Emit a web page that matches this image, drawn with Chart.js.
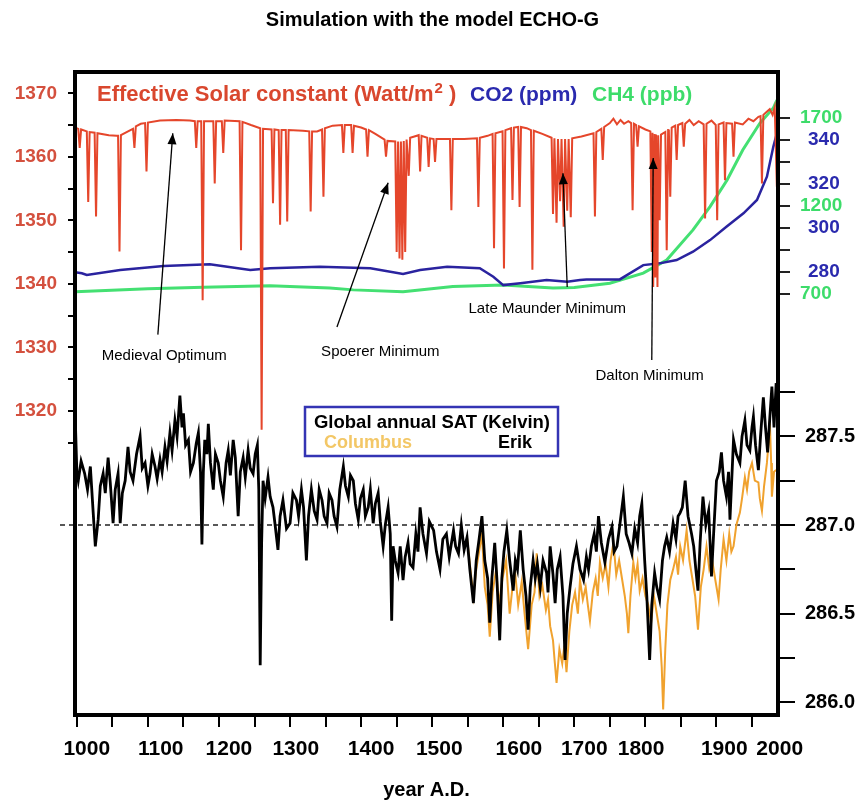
<!DOCTYPE html>
<html><head><meta charset="utf-8">
<script src="https://cdn.jsdelivr.net/npm/chart.js@4.4.0/dist/chart.umd.min.js"></script>
<style>html,body{margin:0;padding:0;background:#fff}canvas{display:block}</style>
</head><body>
<canvas id="c" width="865" height="802"></canvas>
<script>
const chartTitle = 'Simulation with the model ECHO-G';
const xAxisTitle = 'year A.D.';

// Effective solar constant (W/m2): [year, value]
const solar = [
[998,1364.6],[1002,1364.4],[1004,1361.4],[1006,1364.3],
[1014,1364.0],[1016,1352.9],[1018,1363.9],
[1025,1363.8],[1027,1350.6],[1029,1363.7],
[1045,1363.4],[1056,1363.3],[1058,1363.3],[1060,1345.1],[1062,1363.4],
[1072,1364.0],[1079,1364.4],[1081,1361.4],[1083,1364.8],
[1090,1365.2],[1096,1365.3],[1098,1357.7],[1100,1365.4],
[1117,1365.7],[1140,1365.8],[1159,1365.7],
[1166,1365.6],[1168,1361.4],[1170,1365.6],
[1175,1365.6],[1177,1337.4],[1179,1365.6],
[1192,1365.6],[1194,1355.8],[1196,1365.6],
[1204,1365.6],[1206,1360.6],[1208,1365.7],
[1229,1365.6],[1231,1345.3],[1233,1365.5],
[1245,1365.0],[1258,1364.5],[1260,1317.0],[1262,1364.4],
[1274,1364.3],[1276,1352.7],[1278,1364.3],
[1284,1364.2],[1286,1349.3],[1288,1364.2],
[1294,1364.2],[1296,1349.8],[1298,1364.2],
[1318,1364.1],
[1327,1364.0],[1329,1351.4],[1331,1364.0],
[1338,1364.0],[1345,1364.3],[1347,1353.7],[1349,1364.5],
[1360,1364.9],[1373,1365.0],[1375,1360.6],[1377,1365.0],
[1386,1365.0],[1388,1360.6],[1390,1364.9],
[1400,1364.6],[1407,1364.3],[1409,1360.0],[1411,1364.2],
[1420,1363.6],[1433,1362.7],[1435,1360.0],[1437,1362.5],
[1448,1362.4],[1450,1345.0],[1452,1362.4],[1454,1344.0],[1456,1362.4],[1458,1343.8],[1460,1362.5],[1462,1345.0],[1464,1362.7],[1467,1357.0],[1469,1363.0],
[1481,1363.4],[1483,1357.7],[1485,1363.3],
[1493,1363.0],[1495,1358.4],[1497,1362.9],
[1502,1362.8],[1504,1359.2],[1506,1362.8],
[1525,1362.8],[1527,1351.6],[1529,1362.8],
[1545,1362.8],[1563,1362.9],[1565,1352.1],[1567,1363.0],
[1578,1363.3],[1585,1363.6],[1587,1345.6],[1589,1363.7],
[1599,1364.0],[1601,1342.4],[1603,1364.2],
[1611,1364.5],[1613,1353.2],[1615,1364.6],
[1621,1364.7],[1623,1352.1],[1625,1364.7],
[1633,1364.5],[1639,1364.2],[1641,1342.2],[1643,1364.1],
[1655,1363.6],[1668,1363.0],[1670,1351.0],[1672,1362.9],[1675,1349.6],[1677,1362.8],[1680,1353.0],[1682,1362.8],[1685,1349.0],[1687,1362.8],[1690,1351.5],[1692,1362.8],[1695,1350.5],[1697,1362.9],
[1710,1363.2],[1727,1363.7],[1729,1350.6],[1731,1363.9],
[1738,1364.4],[1740,1359.5],[1742,1364.7],
[1750,1365.3],[1755,1366.0],[1760,1365.1],[1765,1365.8],[1770,1365.2],[1776,1365.6],
[1780,1365.3],[1782,1351.6],[1784,1365.2],
[1787,1365.0],[1789,1361.6],[1791,1364.8],
[1800,1364.3],[1807,1364.0],[1809,1345.0],[1810,1363.8],[1811,1339.5],[1813,1363.6],[1814,1341.0],[1815,1363.5],[1817,1339.5],[1818,1363.4],[1820,1350.0],[1822,1363.5],
[1828,1363.9],[1830,1345.3],[1832,1364.2],
[1833,1364.3],[1835,1353.7],[1837,1364.6],
[1842,1364.9],[1844,1359.5],[1846,1365.0],
[1852,1365.3],[1854,1361.6],[1856,1365.2],
[1862,1365.8],[1868,1365.0],[1875,1365.6],
[1882,1365.1],[1884,1350.3],[1886,1365.2],
[1893,1365.7],[1899,1365.0],[1901,1350.0],[1903,1365.1],
[1910,1365.4],[1912,1356.3],[1914,1365.3],
[1922,1365.2],[1924,1360.0],[1926,1365.4],
[1937,1365.1],[1945,1366.0],[1952,1365.6],[1959,1366.3],
[1962,1366.4],[1964,1355.8],[1966,1366.6],
[1970,1367.0],[1975,1367.5],[1979,1366.6],[1982,1367.8],[1985,1355.3]
];

// CO2 (ppm)
const co2 = [
[1000,279.6],[1007,279.3],[1014,278.5],[1061,280.8],[1122,282.6],[1187,283.4],[1244,280.8],[1272,281.6],
[1342,282.3],[1413,281.6],[1459,279.0],[1483,280.8],[1521,282.3],[1567,281.6],[1586,277.7],[1600,273.9],
[1624,274.7],[1661,276.2],[1690,275.4],[1708,276.2],[1717,276.5],[1764,276.5],[1797,283.0],[1820,283.8],
[1844,285.3],[1867,289.1],[1891,294.4],[1914,300.5],[1938,306.6],[1957,312.7],[1971,323.3],[1980,336.9],[1985,343.0]
];

// CH4 (ppb)
const ch4 = [
[998,711],[1100,728],[1178,736],[1272,744],[1356,731],[1389,721],[1459,711],[1529,740],[1600,749],
[1670,731],[1700,735],[1750,759],[1797,816],[1830,891],[1867,1062],[1891,1194],[1915,1346],
[1937,1516],[1961,1668],[1980,1755],[1985,1800]
];

// Global annual SAT (K), run "Erik"
const erik = [
[998,287.57],[1000,287.30],[1002,287.25],[1006,287.36],[1011,287.29],[1015,287.20],[1019,287.33],[1023,287.07],
[1026,286.88],[1030,287.03],[1033,287.22],[1037,287.29],[1040,287.18],[1044,287.38],[1047,287.24],[1051,287.01],
[1054,287.20],[1058,287.29],[1061,287.01],[1064,287.18],[1068,287.25],[1072,287.44],[1075,287.30],[1079,287.25],
[1084,287.40],[1089,287.50],[1092,287.32],[1096,287.35],[1100,287.22],[1103,287.29],[1106,287.40],[1110,287.33],
[1113,287.26],[1117,287.37],[1120,287.30],[1124,287.44],[1127,287.36],[1131,287.52],[1134,287.42],[1138,287.59],
[1141,287.50],[1145,287.73],[1148,287.55],[1150,287.63],[1153,287.45],[1157,287.48],[1160,287.30],[1164,287.35],
[1168,287.46],[1171,287.52],[1174,287.30],[1176,286.89],[1178,287.30],[1180,287.48],[1183,287.40],[1185,287.57],
[1188,287.35],[1192,287.20],[1195,287.40],[1199,287.35],[1202,287.25],[1206,287.16],[1210,287.35],[1213,287.42],
[1216,287.28],[1220,287.48],[1223,287.38],[1227,287.05],[1230,287.30],[1234,287.38],[1237,287.27],[1241,287.42],
[1244,287.32],[1248,287.29],[1251,287.40],[1254,287.45],[1256,287.20],[1258,286.21],[1260,286.90],[1262,287.25],
[1265,287.15],[1269,287.27],[1272,287.16],[1276,287.10],[1279,287.00],[1283,286.86],[1286,287.05],[1290,287.14],
[1295,286.98],[1300,287.01],[1304,287.18],[1309,287.14],[1312,287.05],[1316,287.20],[1319,287.10],[1323,286.80],
[1326,287.05],[1330,287.20],[1334,287.08],[1338,287.03],[1341,287.20],[1345,287.14],[1348,287.05],[1352,287.01],
[1355,287.18],[1359,287.14],[1362,287.05],[1366,286.99],[1370,287.20],[1375,287.33],[1378,287.22],[1382,287.16],
[1385,287.28],[1389,287.25],[1392,287.12],[1396,287.03],[1399,287.15],[1403,287.20],[1406,287.05],[1410,287.10],
[1413,287.20],[1417,287.01],[1420,287.12],[1424,287.18],[1427,287.02],[1431,286.88],[1434,287.00],[1438,287.10],
[1441,286.95],[1443,286.46],[1445,286.88],[1448,286.80],[1452,286.73],[1455,286.88],[1459,286.69],[1462,286.82],
[1466,286.90],[1469,286.78],[1473,286.76],[1477,286.95],[1480,286.85],[1483,287.10],[1487,286.95],[1492,286.84],
[1496,287.02],[1502,286.97],[1506,286.85],[1511,286.75],[1515,286.92],[1520,286.95],[1524,286.82],[1530,286.97],
[1533,286.88],[1537,286.84],[1541,287.00],[1545,286.86],[1549,286.93],[1553,286.75],[1558,286.56],[1562,286.80],
[1566,286.92],[1570,287.05],[1574,286.80],[1578,286.70],[1581,286.45],[1584,286.70],[1588,286.90],[1591,286.70],
[1595,286.35],[1598,286.70],[1601,286.85],[1605,286.97],[1609,286.80],[1614,286.63],[1617,286.80],[1620,286.75],
[1624,286.97],[1628,286.75],[1632,286.60],[1635,286.41],[1638,286.65],[1642,286.80],[1645,286.70],[1648,286.78],
[1652,286.65],[1656,286.80],[1661,286.73],[1663,286.62],[1666,286.88],[1670,286.72],[1673,286.56],[1676,286.75],
[1680,286.82],[1684,286.60],[1687,286.24],[1690,286.50],[1694,286.65],[1698,286.78],[1703,286.88],[1708,286.75],
[1713,286.69],[1717,286.82],[1720,286.75],[1724,286.88],[1728,286.95],[1731,286.85],[1734,287.05],[1738,286.90],
[1743,286.79],[1748,286.92],[1753,286.99],[1756,286.85],[1760,286.88],[1764,287.00],[1769,287.16],[1773,286.95],
[1777,286.90],[1781,286.84],[1785,286.98],[1789,286.90],[1792,287.05],[1795,287.12],[1799,286.80],[1802,286.60],
[1806,286.24],[1809,286.55],[1813,286.73],[1816,286.65],[1820,286.58],[1824,286.80],[1827,286.88],[1830,286.93],
[1834,286.85],[1839,287.01],[1843,286.92],[1846,287.05],[1849,287.07],[1852,287.10],[1856,287.25],[1860,287.05],
[1865,286.95],[1868,286.88],[1871,286.75],[1874,286.63],[1877,286.90],[1881,287.16],[1885,287.00],[1889,287.08],
[1891,286.90],[1893,286.71],[1896,286.95],[1900,287.25],[1904,287.30],[1907,287.41],[1910,287.25],[1914,287.16],
[1917,287.30],[1919,287.03],[1922,287.30],[1924,287.48],[1928,287.40],[1933,287.35],[1936,287.50],[1940,287.59],
[1943,287.45],[1947,287.42],[1950,287.55],[1952,287.61],[1955,287.45],[1959,287.31],[1962,287.50],[1966,287.72],
[1969,287.55],[1972,287.41],[1975,287.60],[1978,287.78],[1981,287.55],[1984,287.80]
];

// Global annual SAT (K), run "Columbus" (coincides with Erik before ~1550)
const columbus = [
[1549,286.93],[1553,286.78],[1558,286.60],[1562,286.75],[1566,286.85],[1570,286.95],[1574,286.65],[1578,286.55],
[1581,286.37],[1585,286.62],[1590,286.75],[1594,286.55],[1599,286.70],[1604,286.80],[1609,286.50],[1613,286.65],
[1617,286.72],[1621,286.55],[1626,286.68],[1630,286.50],[1635,286.30],[1640,286.55],[1644,286.62],[1647,286.84],
[1651,286.60],[1655,286.66],[1660,286.52],[1663,286.58],[1666,286.43],[1670,286.35],[1672,286.25],[1675,286.11],
[1679,286.30],[1683,286.22],[1686,286.32],[1689,286.17],[1693,286.40],[1697,286.55],[1701,286.62],[1705,286.50],
[1708,286.69],[1712,286.58],[1716,286.65],[1719,286.55],[1722,286.46],[1726,286.62],[1730,286.70],[1733,286.60],
[1736,286.79],[1740,286.70],[1744,286.78],[1748,286.65],[1751,286.80],[1755,286.90],[1759,286.72],[1763,286.80],
[1767,286.70],[1771,286.60],[1774,286.50],[1776,286.39],[1779,286.60],[1783,286.79],[1786,286.70],[1789,286.78],
[1792,286.63],[1796,286.70],[1800,286.60],[1804,286.55],[1808,286.45],[1812,286.60],[1816,286.50],[1820,286.40],
[1823,286.20],[1825,285.96],[1828,286.30],[1831,286.55],[1835,286.69],[1839,286.75],[1843,286.82],[1846,286.72],
[1849,286.88],[1853,286.80],[1858,286.97],[1862,286.80],[1866,286.70],[1870,286.60],[1874,286.41],[1878,286.65],
[1882,286.75],[1886,286.88],[1890,286.75],[1894,286.80],[1898,286.70],[1903,286.58],[1906,286.75],[1910,286.92],
[1914,286.80],[1918,286.95],[1921,286.85],[1924,286.88],[1928,287.00],[1933,287.07],[1936,287.15],[1940,287.27],
[1943,287.20],[1946,287.30],[1950,287.35],[1954,287.25],[1959,287.24],[1961,287.15],[1964,287.08],[1967,287.22],
[1971,287.35],[1973,287.45],[1975,287.59],[1977,287.35],[1978,287.16],[1981,287.30],[1984,287.31]
];

const referenceTemp = 287.0;
const yearTicks = [1000,1050,1100,1150,1200,1250,1300,1350,1400,1450,1500,1550,1600,1650,1700,1750,1800,1850,1900,1950];
const xLabelText = ['1000','1100','1200','1300','1400','1500','1600','1700','1800','1900','2000'];
const xLabelYear = [1014,1118,1214,1308,1414,1510,1622,1714,1794,1911,1989];
const solarTicks = [1315,1320,1325,1330,1335,1340,1345,1350,1355,1360,1365,1370];
const tempTicks = [286.0,286.25,286.5,286.75,287.0,287.25,287.5,287.75];
const co2Ticks = [280,290,300,310,320,330,340];
const ch4Ticks = [700,1200,1700];

const annotationText = ['Medieval Optimum','Spoerer Minimum','Late Maunder Minimum','Dalton Minimum'];
const annotationAt = [[1123,1328.6],[1427,1329.3],[1662,1336.0],[1806,1325.5]];
const arrowFrom = [[1114,1332.0],[1366,1333.2],[1690,1339.5],[1809,1328.0]];
const arrowTo = [[1135,1363.7],[1438,1355.9],[1684,1357.4],[1811,1359.8]];

const FONT = '"Liberation Sans", Arial, Helvetica, sans-serif';
const pts = a => a.map(([x, y]) => ({x, y}));
const setTicks = list => s => { s.ticks = list.map(v => ({value: v})); };

const overlay = {
  id: 'overlay',
  afterLayout(chart) {
    // CO2 and CH4 axes share the right edge with the temperature axis
    for (const id of ['yCO2', 'yCH4']) {
      const s = chart.scales[id];
      s.left = chart.chartArea.right;
      s.right = chart.width;
      s.width = s.right - s.left;
    }
  },
  beforeDatasetsDraw(chart) {
    const {ctx, chartArea} = chart;
    const yT = chart.scales.yTemp.getPixelForValue(referenceTemp);
    ctx.save();
    ctx.strokeStyle = '#222'; ctx.lineWidth = 1.5; ctx.setLineDash([5, 4]);
    ctx.beginPath(); ctx.moveTo(60, yT); ctx.lineTo(chartArea.right, yT); ctx.stroke();
    ctx.restore();
  },
  afterDatasetsDraw(chart) {
    const {ctx, chartArea} = chart;
    const xs = chart.scales.x, ys = chart.scales.ySolar;
    ctx.save();
    ctx.strokeStyle = '#000'; ctx.lineWidth = 4;
    ctx.strokeRect(chartArea.left, chartArea.top, chartArea.right - chartArea.left, chartArea.bottom - chartArea.top);
    ctx.textBaseline = 'middle'; ctx.textAlign = 'left';
    let x = chartArea.left + 22, y = 95;
    ctx.font = 'bold 22px ' + FONT; ctx.fillStyle = '#d9472e';
    const p1 = 'Effective Solar constant (Watt/m';
    ctx.fillText(p1, x, y); x += ctx.measureText(p1).width + 1;
    ctx.font = 'bold 15px ' + FONT; ctx.fillText('2', x, y - 6); x += ctx.measureText('2').width;
    ctx.font = 'bold 22px ' + FONT; ctx.fillText(' )', x, y);
    ctx.font = 'bold 21px ' + FONT;
    ctx.fillStyle = '#2a2aae'; ctx.fillText('CO2 (ppm)', 470, y);
    ctx.fillStyle = '#3ddc6a'; ctx.fillText('CH4 (ppb)', 592, y);
    ctx.strokeStyle = '#000'; ctx.fillStyle = '#000'; ctx.lineWidth = 1.3;
    for (let i = 0; i < annotationText.length; i++) {
      const x0 = xs.getPixelForValue(arrowFrom[i][0]), y0 = ys.getPixelForValue(arrowFrom[i][1]);
      const x1 = xs.getPixelForValue(arrowTo[i][0]), y1 = ys.getPixelForValue(arrowTo[i][1]);
      ctx.beginPath(); ctx.moveTo(x0, y0); ctx.lineTo(x1, y1); ctx.stroke();
      const ang = Math.atan2(y1 - y0, x1 - x0), L = 11, W = 4.5;
      ctx.beginPath(); ctx.moveTo(x1, y1);
      ctx.lineTo(x1 - L * Math.cos(ang) + W * Math.sin(ang), y1 - L * Math.sin(ang) - W * Math.cos(ang));
      ctx.lineTo(x1 - L * Math.cos(ang) - W * Math.sin(ang), y1 - L * Math.sin(ang) + W * Math.cos(ang));
      ctx.closePath(); ctx.fill();
      ctx.font = '15px ' + FONT; ctx.textAlign = 'center';
      ctx.fillText(annotationText[i], xs.getPixelForValue(annotationAt[i][0]), ys.getPixelForValue(annotationAt[i][1]));
    }
    ctx.strokeStyle = '#3434b4'; ctx.lineWidth = 2.5;
    ctx.fillStyle = '#fff';
    ctx.fillRect(305, 407, 253, 49);
    ctx.strokeRect(305, 407, 253, 49);
    ctx.textAlign = 'center';
    ctx.font = 'bold 18.5px ' + FONT; ctx.fillStyle = '#000';
    ctx.fillText('Global annual SAT (Kelvin)', 432, 423);
    ctx.font = 'bold 18px ' + FONT;
    ctx.fillStyle = '#f3c766'; ctx.fillText('Columbus', 368, 443);
    ctx.fillStyle = '#000'; ctx.fillText('Erik', 515, 443);
    ctx.font = 'bold 21px ' + FONT; ctx.fillStyle = '#000';
    for (let i = 0; i < xLabelText.length; i++) {
      ctx.fillText(xLabelText[i], xs.getPixelForValue(xLabelYear[i]), 749);
    }
    ctx.restore();
  }
};

new Chart(document.getElementById('c'), {
  type: 'line',
  data: {
    datasets: [
      {label: 'Solar', data: pts(solar), yAxisID: 'ySolar', borderColor: '#e5462b', borderWidth: 2, order: 1},
      {label: 'CO2', data: pts(co2), yAxisID: 'yCO2', borderColor: '#2a239f', borderWidth: 2.5, order: 3},
      {label: 'CH4', data: pts(ch4), yAxisID: 'yCH4', borderColor: '#44e072', borderWidth: 3, order: 4},
      {label: 'Erik', data: pts(erik), yAxisID: 'yTemp', borderColor: '#000', borderWidth: 2.8, order: 2},
      {label: 'Columbus', data: pts(columbus), yAxisID: 'yTemp', borderColor: '#f0a22e', borderWidth: 2, order: 5}
    ]
  },
  options: {
    responsive: false, animation: false, devicePixelRatio: 1,
    layout: {padding: 0},
    elements: {point: {radius: 0}, line: {tension: 0}},
    plugins: {
      legend: {display: false}, tooltip: {enabled: false},
      title: {display: true, text: chartTitle, color: '#000', font: {family: FONT, size: 20, weight: 'bold'}, padding: {top: 8, bottom: 40}}
    },
    scales: {
      x: {
        type: 'linear', position: 'bottom', min: 997.4, max: 1986.6,
        afterBuildTicks: setTicks(yearTicks),
        afterFit: s => { s.height = 87; },
        border: {display: false},
        grid: {drawOnChartArea: false, drawTicks: true, tickLength: 12, color: '#000', lineWidth: 2},
        ticks: {autoSkip: false, maxRotation: 0, callback: () => ''},
        title: {display: true, text: xAxisTitle, color: '#000', font: {family: FONT, size: 20, weight: 'bold'}, padding: {top: 0, bottom: 0}}
      },
      ySolar: {
        position: 'left', min: 1272.1, max: 1373.35,
        afterBuildTicks: setTicks(solarTicks),
        afterFit: s => { s.width = 75; },
        border: {display: false},
        grid: {drawOnChartArea: false, tickLength: 7, color: '#000', lineWidth: 2},
        ticks: {autoSkip: false, padding: 11, color: '#d4503e', font: {family: FONT, size: 19, weight: 'bold'},
          callback: v => (v % 10 === 0 ? String(v) : '')}
      },
      yCO2: {
        position: 'right', min: 78.04, max: 370.98,
        afterBuildTicks: setTicks(co2Ticks),
        afterFit: s => { s.width = 0; },
        border: {display: false},
        grid: {drawOnChartArea: false, tickLength: 12, color: '#222', lineWidth: 2},
        ticks: {autoSkip: false, padding: 18, color: '#2a2aae', font: {family: FONT, size: 19, weight: 'bold'},
          callback: v => (v % 20 === 0 ? String(v) : '')}
      },
      yCH4: {
        position: 'right', min: -1696, max: 1959.7,
        afterBuildTicks: setTicks(ch4Ticks),
        afterFit: s => { s.width = 0; },
        border: {display: false},
        grid: {drawOnChartArea: false, tickLength: 12, color: '#222', lineWidth: 2},
        ticks: {autoSkip: false, padding: 10, color: '#3ddc6a', font: {family: FONT, size: 19, weight: 'bold'},
          callback: v => String(v)}
      },
      yTemp: {
        position: 'right', min: 285.929, max: 289.554,
        afterBuildTicks: setTicks(tempTicks),
        afterFit: s => { s.width = 87; },
        border: {display: false},
        grid: {drawOnChartArea: false, tickLength: 17, color: '#000', lineWidth: 2},
        ticks: {autoSkip: false, padding: 10, color: '#000', font: {family: FONT, size: 20, weight: 'bold'},
          callback: v => (Math.abs(v * 2 - Math.round(v * 2)) < 1e-6 ? v.toFixed(1) : '')}
      }
    }
  },
  plugins: [overlay]
});
</script>
</body></html>
